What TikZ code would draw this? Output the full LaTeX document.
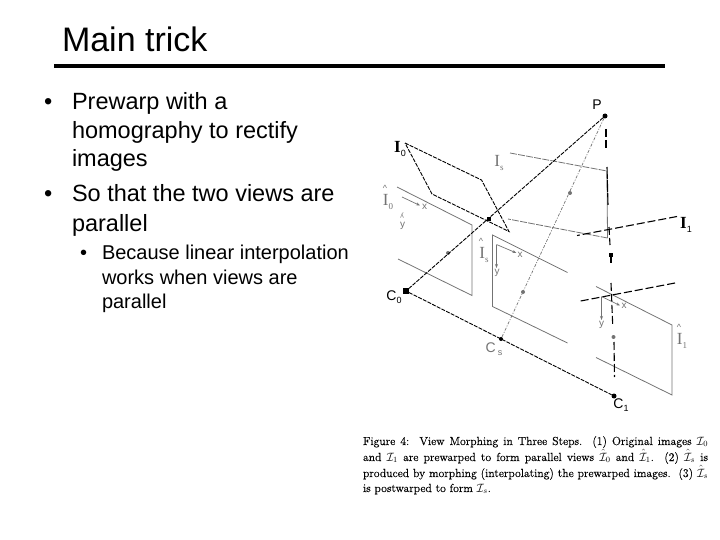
\documentclass[tikz,border=0pt]{standalone}
\usepackage{fontspec}
\setmainfont{Liberation Sans}
\newfontfamily\serifcap[FakeBold=0.3]{Latin Modern Roman}
\newfontfamily\boldi{Liberation Serif}
\definecolor{gr}{gray}{0.45}
\usetikzlibrary{arrows.meta}
\tikzset{
  tl/.style={anchor=base west,inner sep=0pt,outer sep=0pt},
  titletext/.style={tl,font=\fontsize{34}{34}\selectfont},
  bodytext/.style={tl,font=\fontsize{23.5}{23.5}\selectfont},
  subtext/.style={tl,font=\fontsize{20}{20}\selectfont},
  captext/.style={tl,font=\serifcap\fontsize{11.7}{11.7}\selectfont},
  blackdash/.style={black,line width=0.9pt,dash pattern=on 4pt off 1.2pt},
  longdash/.style={black,line width=1.1pt,dash pattern=on 8pt off 3pt},
  graydash/.style={gr,line width=0.8pt,dash pattern=on 7pt off 1.2pt},
  graysolid/.style={gr,line width=0.8pt},
  graydot/.style={gr,line width=0.7pt,dash pattern=on 3pt off 1.5pt on 1pt off 1.5pt},
  axisarrow/.style={gr,line width=0.7pt,-{Stealth[length=4pt,width=3pt]}},
  bdot/.style={circle,fill=black,inner sep=0pt,minimum size=5pt},
  gdot/.style={circle,fill=gr,inner sep=0pt,minimum size=4pt},
  blab/.style={black,inner sep=0pt,font=\fontsize{14}{14}\selectfont},
  glab/.style={gr,inner sep=0pt,font=\fontsize{14}{14}\selectfont},
  axlab/.style={gr,inner sep=0pt,font=\fontsize{10}{10}\selectfont},
}
\newcommand{\subsc}[1]{\raisebox{-3.5pt}{\fontsize{9}{9}\selectfont #1}}
\newcommand{\grayI}[1]{{\boldi\fontsize{17}{17}\selectfont I\subsc{#1}}}
\newcommand{\blackI}[1]{{\boldi\bfseries\fontsize{17}{17}\selectfont I\mdseries\subsc{\rmfamily #1}}}
\newcommand{\calI}[1]{$\mathcal{I}_{#1}$}
\newcommand{\hatcal}[1]{$\hat{\mathcal{I}}_{#1}$}
\begin{document}
\begin{tikzpicture}[x=1pt,y=-1pt]
\useasboundingbox (0,0) rectangle (720,540);
% title and text
\node[titletext] (title) at (62,51.5) {Main trick};
\coordinate (ruleL) at (54,66);
\coordinate (ruleR) at (665,66);
\draw[line width=3.8pt] (ruleL) -- (ruleR);
\node[bodytext] (b1) at (44,109.5) {•};
\node[bodytext] (t1) at (72,109.5) {Prewarp with a};
\node[bodytext] (t2) at (72,138.5) {homography to rectify};
\node[bodytext] (t3) at (72,167) {images};
\node[bodytext] (b2) at (44,202) {•};
\node[bodytext] (t4) at (72,202) {So that the two views are};
\node[bodytext] (t5) at (72,231) {parallel};
\node[subtext] (b4) at (80,259) {•};
\node[subtext] (s1) at (102,259) {Because linear interpolation};
\node[subtext] (s2) at (102,284) {works when views are};
\node[subtext] (s3) at (102,308) {parallel};
% key points
\node[bdot] (P) at (605,116) {};
\node[bdot,minimum size=5.5pt,rectangle] (C0) at (406,291) {};
\node[bdot] (C1) at (614,396) {};
\node[bdot,minimum size=4pt] (Cs) at (501,339) {};
\node[bdot,rectangle,minimum size=4.5pt] (p0) at (489,219) {};
\node[bdot,rectangle,minimum size=4pt] (p1) at (611,255) {};
\node[gdot] (h0) at (448,253) {};
\node[gdot] (hs) at (523,292) {};
\node[gdot] (h1) at (613.5,337) {};
\node[gdot] (ps) at (570,193) {};
% I0 quad
\coordinate (a1) at (405,143); \coordinate (a2) at (481.5,180);
\coordinate (a3) at (509,231.5); \coordinate (a4) at (432,194);
\draw[blackdash] (a1) -- (a2) -- (a3) -- (a4) -- cycle;
% Is quad
\coordinate (s1a) at (510,153); \coordinate (s1b) at (607,171);
\coordinate (s1c) at (607.5,238); \coordinate (s1d) at (508,219);
\draw[graydash] (s1a) -- (s1b);
\draw[graysolid] (s1b) -- (s1c);
\draw[graydash] (s1c) -- (s1d);
% I0hat
\coordinate (c1) at (397,187); \coordinate (c2) at (472,225);
\coordinate (c3) at (472,295.5); \coordinate (c4) at (398,259);
\draw[graysolid] (c1) -- (c2) -- (c3) -- (c4);
% Ishat
\coordinate (d1) at (567.5,272.5); \coordinate (d2) at (492.5,235);
\coordinate (d3) at (492.5,306.5); \coordinate (d4) at (567.5,343);
\draw[graysolid] (d1) -- (d2) -- (d3) -- (d4);
% I1hat
\coordinate (e1) at (596,286.5); \coordinate (e2) at (672,325);
\coordinate (e3) at (672,395); \coordinate (e4) at (596,357.5);
\draw[graysolid] (e1) -- (e2) -- (e3) -- (e4);
% rays
\draw[blackdash] (P) -- (C0);
\draw[blackdash] (C0) -- (C1);
\draw[graydot] (P) -- (Cs);
\coordinate (v0) at (606,129); \coordinate (v0e) at (606,148);
\coordinate (v1) at (607,167); \coordinate (v1e) at (608,205);
\coordinate (v2) at (609,227); \coordinate (v2e) at (610,245);
\coordinate (v3e) at (611,263);
\coordinate (v4) at (611,283); \coordinate (v4e) at (612.7,325);
\coordinate (v5) at (614,342); \coordinate (v5e) at (614.5,377);
\draw[longdash] (v0) -- (v0e);
\draw[longdash,dash pattern=on 12pt off 1pt] (v1) -- (v1e);
\draw[longdash] (v2) -- (v2e);
\draw[longdash] (p1) -- (v3e);
\draw[longdash] (v4) -- (v4e);
\draw[longdash] (v5) -- (v5e);
% I1 lines
\coordinate (f1) at (677,216.5); \coordinate (f2) at (577,235.5);
\coordinate (g1) at (675,283); \coordinate (g2) at (578,301.5);
\draw[longdash] (f1) -- (f2);
\draw[longdash] (g1) -- (g2);
% axes
\coordinate (o0) at (402,197); \coordinate (o0x) at (420,205.5);
\draw[axisarrow] (o0) -- (o0x);
\node[axlab] (x0) at (424.5,207) {x};
\node[axlab] (y0a) at (402,216) {\rotatebox{180}{\fontsize{7}{7}\selectfont y}};
\node[axlab] (y0) at (402.5,226) {y};
\coordinate (os) at (496.5,244.5);
\coordinate (osx) at (516.5,253); \coordinate (osy) at (496.5,268);
\draw[axisarrow] (os) -- (osx);
\draw[axisarrow] (os) -- (osy);
\node[axlab] (xs) at (520,254.5) {x};
\node[axlab] (ys) at (497,273) {y};
\coordinate (o1) at (601.5,296.5);
\coordinate (o1x) at (620,305.5); \coordinate (o1y) at (601.5,320);
\draw[axisarrow] (o1) -- (o1x);
\draw[axisarrow] (o1) -- (o1y);
\node[axlab] (x1) at (624,306) {x};
\node[axlab] (y1) at (601.5,325) {y};
% labels
\node[blab] (lP) at (597,105) {P};
\node[blab] (lC0) at (394,297) {C\subsc{0}};
\node[glab] (lCs) at (494,349) {C\,\subsc{s}};
\node[blab] (lC1) at (621,405) {C\subsc{1}};
\node[black,inner sep=0pt] (lI0) at (400,149) {\blackI{0}};
\node[black,inner sep=0pt] (lI1) at (686,225) {\blackI{1}};
\node[gr,inner sep=0pt] (lIs) at (499,163) {\grayI{s}};
\node[gr,inner sep=0pt] (lh0) at (388,202) {\grayI{0}};
\node[gr,inner sep=0pt,font=\fontsize{9}{9}\selectfont] (lh0a) at (385,188) {\textasciicircum};
\node[gr,inner sep=0pt] (lhs) at (484,255) {\grayI{s}};
\node[gr,inner sep=0pt,font=\fontsize{9}{9}\selectfont] (lhsa) at (481,241) {\textasciicircum};
\node[gr,inner sep=0pt] (lh1) at (682,341) {\grayI{1}};
\node[gr,inner sep=0pt,font=\fontsize{9}{9}\selectfont] (lh1a) at (679,327) {\textasciicircum};
% caption
\node[captext] (c1t) at (363,445) {\hbox to 345pt{Figure 4:\ \ View Morphing in Three Steps.\ \ (1) Original images \calI{0}}};
\node[captext] (c2t) at (363,461) {\hbox to 345pt{and \calI{1} are prewarped to form parallel views \hatcal{0} and \hatcal{1}.\ \ (2) \hatcal{s} is}};
\node[captext] (c3t) at (363,477) {\hbox to 345pt{produced by morphing (interpolating) the prewarped images.\ \ (3) \hatcal{s}}};
\node[captext] (c4t) at (363,492) {is postwarped to form \calI{s}.};
\end{tikzpicture}
\end{document}
